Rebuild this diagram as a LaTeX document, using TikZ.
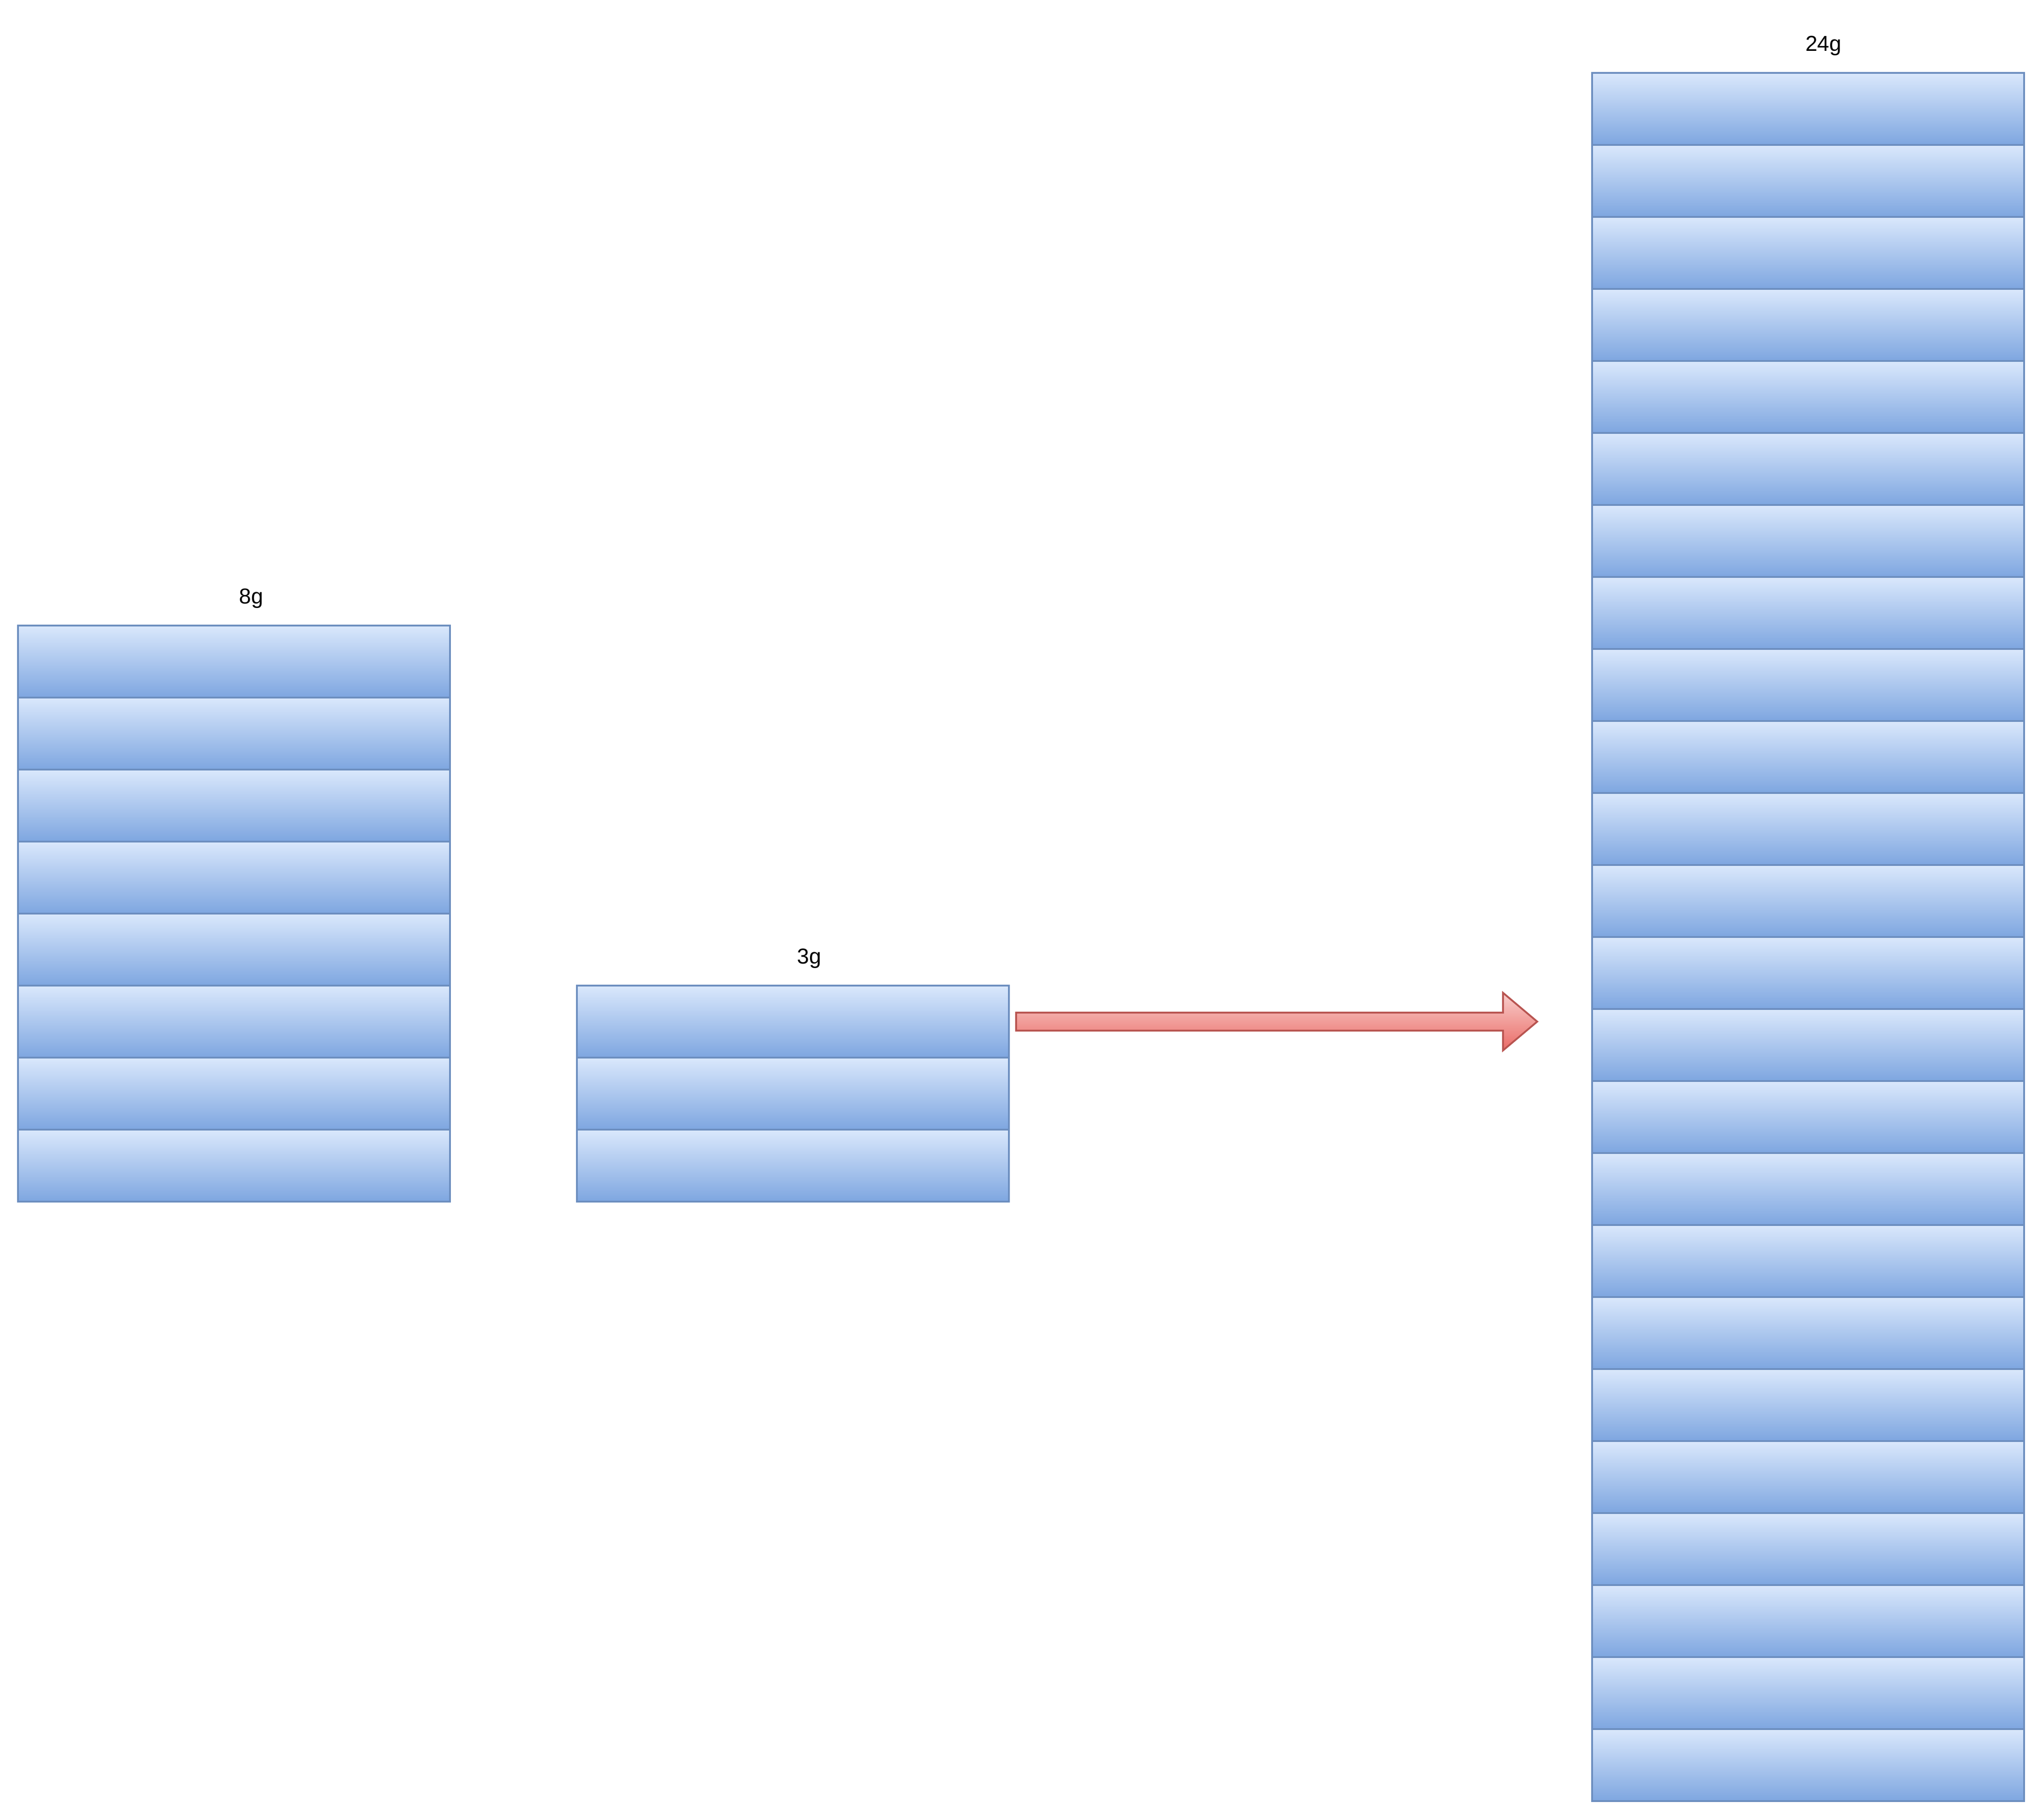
\documentclass[tikz,border=0pt]{standalone}
\usepackage{fontspec}
\setmainfont{Liberation Sans}
\definecolor{slabline}{HTML}{6C8EBF}
\definecolor{slabtop}{HTML}{DAE8FC}
\definecolor{slabbot}{HTML}{7EA6E0}
\definecolor{arrline}{HTML}{B85450}
\definecolor{arrtop}{HTML}{F8CECC}
\definecolor{arrbot}{HTML}{EA6B66}
\usetikzlibrary{positioning}

\begin{document}
\begin{tikzpicture}[x=1pt,y=-1pt,
        slab/.style={draw=slabline,line width=1pt,top color=slabtop,bottom color=slabbot,
            minimum width=240pt,minimum height=40pt,inner sep=0pt,outer sep=0pt,anchor=north west},
        weight/.style={font=\fontsize{12}{14}\selectfont,inner sep=0pt},
        bigarrow/.style={draw=arrline,line width=1pt,top color=arrtop,bottom color=arrbot}]
    \useasboundingbox (0,0) rectangle (1135,1011);
    \foreach \i in {1,...,8}
        \node[slab] (a\i) at (10,{347.5+40*(\i-1)}) {};
    \foreach \i in {1,...,3}
        \node[slab] (b\i) at (320.5,{547.5+40*(\i-1)}) {};
    \foreach \i in {1,...,24}
        \node[slab] (c\i) at (884.5,{40.5+40*(\i-1)}) {};
    \node[weight] (wa) at ([xshift=9.5pt,yshift=15pt]a1.north) {8g};
    \node[weight] (wb) at ([xshift=9pt,yshift=15pt]b1.north) {3g};
    \node[weight] (wc) at ([xshift=8.5pt,yshift=15pt]c1.north) {24g};
    \coordinate (tail) at ([xshift=4pt]b1.east);
    \shade[bigarrow] ([yshift=5pt]tail) -- ++(270.5,0) -- ++(0,-11) -- ++(19,16)
        -- ++(-19,16) -- ++(0,-11) -- ++(-270.5,0) -- cycle;
\end{tikzpicture}
\end{document}
